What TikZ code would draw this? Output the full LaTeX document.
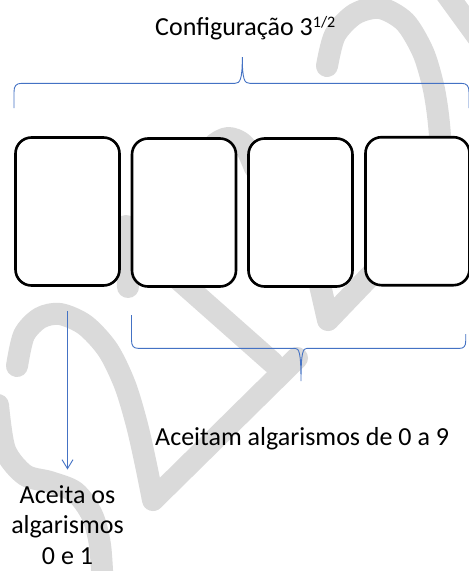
\documentclass[tikz,border=0pt]{standalone}
\usepackage{fontspec}
\setmainfont{Carlito}
\usetikzlibrary{arrows.meta}
\definecolor{wm}{RGB}{218,218,218}
\definecolor{brc}{RGB}{68,114,196}
\begin{document}
\begin{tikzpicture}[x=1pt,y=-1pt,
  wmark/.style={draw=wm,line width=22pt,line cap=round,line join=round},
  cell/.style={draw=black,line width=2.6pt,fill=white,rounded corners=16pt,minimum width=104pt,minimum height=148pt,inner sep=0pt},
  brace/.style={draw=brc,line width=0.9pt},
  lbl/.style={font=\fontsize{26}{30.5}\selectfont,inner sep=0pt}]
\useasboundingbox[fill=white] (0,0) rectangle (469,571);
% watermark
\draw[wmark] plot[smooth] coordinates {(327,66) (335,35) (355,14) (380,8) (405,22) (423,52) (433,85) (438,115) (441,150) (442,190)};
\draw[wmark] (440,-15) -- (480,40);
\draw[wmark] plot[smooth] coordinates {(203,170) (212,147) (228,138) (244,145) (255,168)};
\draw[wmark] (312,250) -- (328,320) -- (395,250);
\draw[wmark] (126,226) -- (128,287);
\draw[wmark] (125,232) -- (273,363);
\draw[wmark] plot[smooth] coordinates {(17,366) (24,335) (40,318) (60,314) (85,325) (108,350) (125,385) (137,425) (146,465) (153,500)} -- (297,358);
\draw[wmark] plot[smooth] coordinates {(-2,405) (5,450) (25,475) (50,482) (75,492) (92,515) (100,545) (103,590)};
% cells
\node[cell] (b1) at (67.5,211.5) {};
\node[cell] (b2) at (184,212.5) {};
\node[cell] (b3) at (300.5,212.5) {};
\node[cell] (b4) at (417.5,211.2) {};
% texts
\node[lbl,anchor=base west] (title) at (155,35) {Configuração 3\raisebox{8pt}{\fontsize{16}{16}\selectfont 1/2}};
\node[lbl,anchor=base west] (t2) at (155,445.5) {Aceitam algarismos de 0 a 9};
\node[lbl,align=center,anchor=base] (t1) at (67.5,564) {Aceita os\\algarismos\\0 e 1};
% top brace
\draw[brace] (14,108) -- (14,92) .. controls (14,86) and (16,83.3) .. (22,83.3) -- (235,83.3)
  .. controls (240,83.3) and (242.3,80) .. (242.3,57)
  .. controls (242.3,80) and (244.6,83.3) .. (249.6,83.3) -- (461,83.3)
  .. controls (467,83.3) and (469,86) .. (469,92) -- (469,108);
% bottom brace
\draw[brace] (131.5,315) -- (131.5,340) .. controls (131.5,346) and (133.5,348.3) .. (138,348.3) -- (295,348.3)
  .. controls (299,348.3) and (301,352) .. (301,381)
  .. controls (301,352) and (303,348.3) .. (307,348.3) -- (460,348.3)
  .. controls (464,348.3) and (465.7,346) .. (465.7,341) -- (465.7,334);
% arrow
\coordinate (a1) at (67.5,469.5);
\draw[brace,-{Straight Barb[length=9pt,width=11pt]}] ([yshift=-24.5pt]b1.south) -- (a1);
\end{tikzpicture}
\end{document}
